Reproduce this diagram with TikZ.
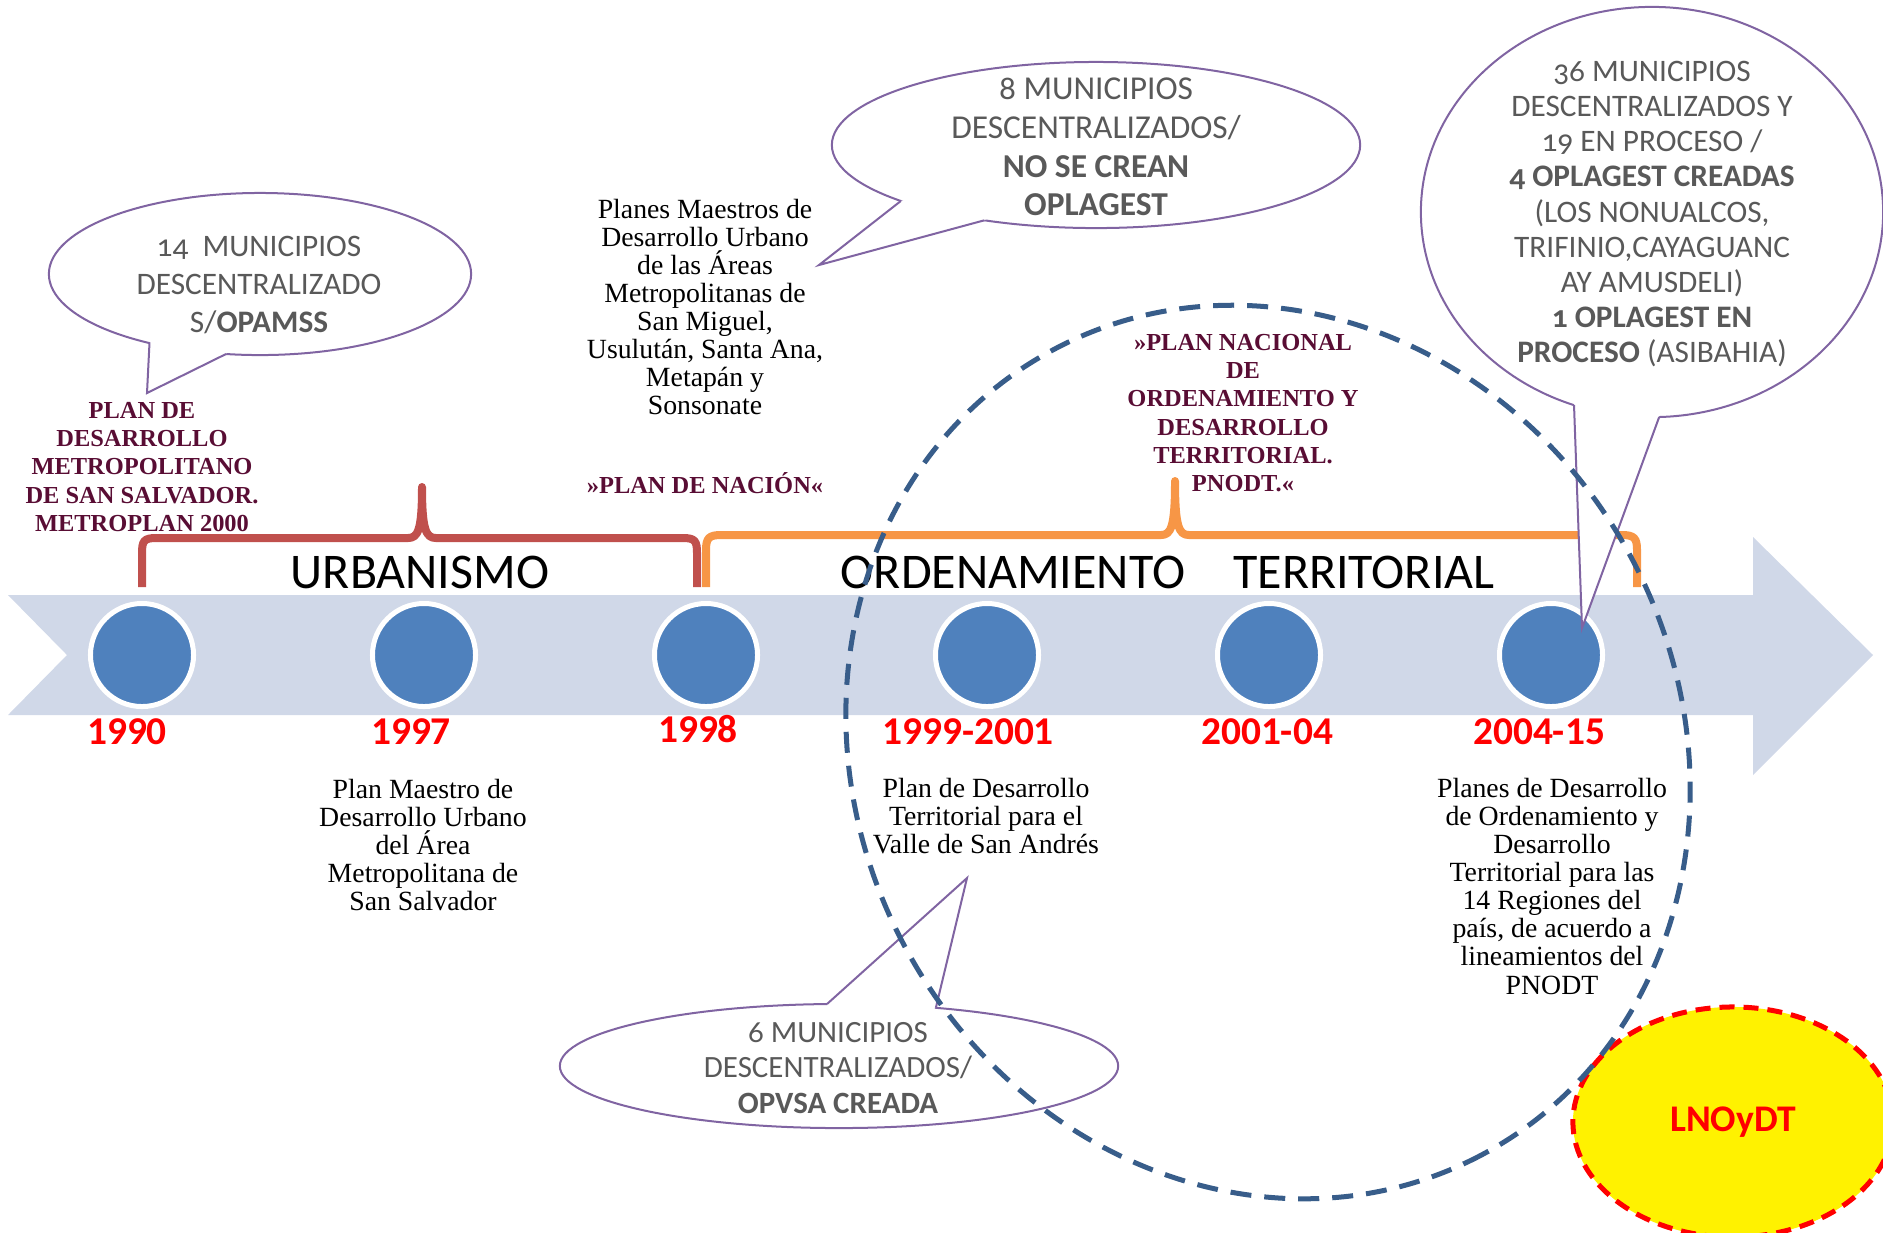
\documentclass[tikz,border=0pt]{standalone}
\usepackage{fontspec}
\setmainfont{Liberation Serif}
\setsansfont{Carlito}
\newfontfamily\bubblefont{Carlito}[Numbers=OldStyle]
\usetikzlibrary{shapes.geometric}
\definecolor{bandcol}{RGB}{208,216,232}
\definecolor{dotcol}{RGB}{79,129,189}
\definecolor{urbcol}{RGB}{192,80,77}
\definecolor{ordcol}{RGB}{247,150,70}
\definecolor{plancol}{RGB}{89,13,52}
\definecolor{bubcol}{RGB}{128,100,162}
\definecolor{ringcol}{RGB}{56,93,138}
\colorlet{bubtext}{black!65}
\tikzstyle{milestone}=[circle,fill=dotcol,draw=white,line width=0.05cm,inner sep=0pt,minimum size=1.03cm]
\tikzstyle{year}=[text=red,font=\sffamily\bfseries\fontsize{11.2}{13}\selectfont]
\tikzstyle{era}=[font=\sffamily\fontsize{14.2}{16}\selectfont]
\tikzstyle{plan}=[align=center,text=plancol,font=\bfseries\fontsize{6.95}{8}\selectfont]
\tikzstyle{desc}=[align=center,font=\fontsize{7.9}{8}\selectfont]
\tikzstyle{bubble}=[ellipse,draw=bubcol,fill=white,line width=0.02cm,inner sep=0pt,outer sep=0pt]
\tikzstyle{tail}=[draw=bubcol,line width=0.02cm]
\tikzstyle{bubtxt}=[align=center,text=bubtext]
\tikzstyle{phasebrace}=[line width=0.08cm,line join=round]

\begin{document}
\begin{tikzpicture}[x=0.01cm,y=-0.01cm]
  \useasboundingbox (0,0) rectangle (1883,1232);
  % time band
  \fill[bandcol] (8,595) -- (1753,595) -- (1753,537) -- (1873,655)
    -- (1753,775) -- (1753,715) -- (8,715) -- (67,655) -- cycle;
  \node[milestone] (c1) at (142,655) {};
  \node[milestone] (c2) at (424,655) {};
  \node[milestone] (c3) at (706,655) {};
  \node[milestone] (c4) at (987,655) {};
  \node[milestone] (c5) at (1269,655) {};
  \node[milestone] (c6) at (1551,655) {};
  % Braces
  \draw[phasebrace,urbcol] (142,587) -- (142,553) .. controls (142,541) and (144,538) .. (156,538)
    -- (408,538) .. controls (418,538) and (422,530) .. (422,487)
    .. controls (422,530) and (426,538) .. (436,538)
    -- (683,538) .. controls (695,538) and (697,541) .. (697,553) -- (697,587);
  \draw[phasebrace,ordcol] (706,587) -- (706,550) .. controls (706,538) and (709,535) .. (721,535)
    -- (1161,535) .. controls (1171,535) and (1175,527) .. (1175,481)
    .. controls (1175,527) and (1179,535) .. (1189,535)
    -- (1622,535) .. controls (1634,535) and (1637,538) .. (1637,550) -- (1637,587);
  \node[era] (urb) at (420,572) {URBANISMO};
  \node[era] (ord) at (1013,572) {ORDENAMIENTO};
  \node[era] (terr) at (1364,572) {TERRITORIAL};
  % Years
  \node[year] (y1990) at (127,732) {1990};
  \node[year] (y1997) at (411,732) {1997};
  \node[year] (y1998) at (698,729) {1998};
  \node[year] (y1999) at (968,732) {1999-2001};
  \node[year] (y2001) at (1267,732) {2001-04};
  \node[year] (y2004) at (1539,732) {2004-15};
  % Plans
  \node[plan] (p1990) at (142,467) {PLAN DE\\DESARROLLO\\METROPOLITANO\\DE SAN SALVADOR.\\METROPLAN 2000};
  \node[plan] (p1998) at (705,483) {»PLAN DE NACIÓN«};
  \node[plan] (p2001) at (1243,413) {»PLAN NACIONAL\\DE\\ORDENAMIENTO Y\\DESARROLLO\\TERRITORIAL.\\PNODT.«};
  \node[desc] (d1997) at (423,845) {Plan Maestro de\\Desarrollo Urbano\\del Área\\Metropolitana de\\San Salvador};
  \node[desc] (d1998) at (705,307) {Planes Maestros de\\Desarrollo Urbano\\de las Áreas\\Metropolitanas de\\San Miguel,\\Usulután, Santa Ana,\\Metapán y\\Sonsonate};
  \node[desc] (d1999) at (986,816) {Plan de Desarrollo\\Territorial para el\\Valle de San Andrés};
  \node[desc] (d2004) at (1552,886) {Planes de Desarrollo\\de Ordenamiento y\\Desarrollo\\Territorial para las\\14 Regiones del\\país, de acuerdo a\\lineamientos del\\PNODT};
  % LNOyDT
  \node[ellipse,fill=yellow,draw=red,line width=0.05cm,dash pattern=on 0.15cm off 0.09cm,
    minimum width=3.2cm,minimum height=2.3cm,text=red,
    font=\sffamily\bfseries\fontsize{10.7}{12}\selectfont] (ley) at (1733,1122) {LNOyDT};
  % Callouts
  \node[bubble,minimum width=4.22cm,minimum height=1.62cm] (e1) at (260,274) {};
  \coordinate (tip1) at (147,393);
  \fill[white] (e1.212.5) -- (tip1) -- (e1.247.8) -- (e1.center) -- cycle;
  \draw[tail] (e1.212.5) -- (tip1) -- (e1.247.8);
  \node[bubble,minimum width=5.28cm,minimum height=1.66cm] (e2) at (1096,145) {};
  \coordinate (tip2) at (819,265);
  \fill[white] (e2.196.6) -- (tip2) -- (e2.214.6) -- (e2.center) -- cycle;
  \draw[tail] (e2.196.6) -- (tip2) -- (e2.214.6);
  \node[bubble,minimum width=4.62cm,minimum height=4.1cm] (e3) at (1652,212) {};
  \coordinate (tip3) at (1582,628);
  \fill[white] (e3.248) -- (tip3) -- (e3.272.5) -- (e3.center) -- cycle;
  \draw[tail] (e3.248) -- (tip3) -- (e3.272.5);
  \node[bubble,minimum width=5.58cm,minimum height=1.24cm] (e4) at (839,1066) {};
  \coordinate (tip4) at (967,878);
  \fill[white] (e4.101) -- (tip4) -- (e4.31.5) -- (e4.center) -- cycle;
  \draw[tail] (e4.101) -- (tip4) -- (e4.31.5);
  \node[bubtxt,font=\bubblefont\fontsize{8.9}{10.7}\selectfont] (t1) at (259,285)
    {14\ \ MUNICIPIOS\\DESCENTRALIZADO\\S/\textbf{OPAMSS}};
  \node[bubtxt,font=\bubblefont\fontsize{9.5}{11}\selectfont] (t2) at (1096,147)
    {8 MUNICIPIOS\\DESCENTRALIZADOS/\\\textbf{NO SE CREAN}\\\textbf{OPLAGEST}};
  \node[bubtxt,font=\bubblefont\fontsize{8.9}{10}\selectfont] (t3) at (1652,214)
    {36 MUNICIPIOS\\DESCENTRALIZADOS Y\\19 EN PROCESO /\\\textbf{4 OPLAGEST CREADAS}\\(LOS NONUALCOS,\\TRIFINIO,CAYAGUANC\\AY AMUSDELI)\\\textbf{1 OPLAGEST EN}\\\textbf{PROCESO} (ASIBAHIA)};
  \node[bubtxt,font=\bubblefont\fontsize{8.8}{10}\selectfont] (t4) at (838,1068)
    {6 MUNICIPIOS\\DESCENTRALIZADOS/\\\textbf{OPVSA CREADA}};
  % dashed ring
  \draw[ringcol,line width=0.05cm,dash pattern=on 0.21cm off 0.13cm,rotate around={-62:(1268,752)}]
    (1268,752) ellipse [x radius=456,y radius=412];
\end{tikzpicture}
\end{document}
